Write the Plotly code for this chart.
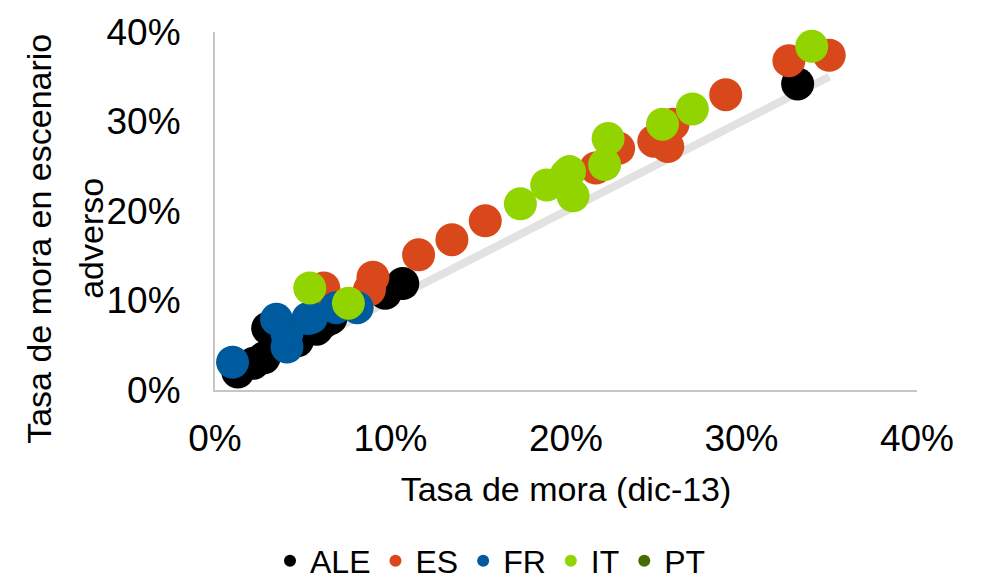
import plotly.graph_objects as go

# Tasa de mora: diciembre 2013 (x) frente a escenario adverso (y), por país
ale_x = [0.013, 0.022, 0.028, 0.030, 0.047, 0.058, 0.062, 0.066, 0.097, 0.107, 0.332]
ale_y = [0.020, 0.030, 0.036, 0.069, 0.055, 0.068, 0.076, 0.080, 0.108, 0.119, 0.342]

es_x = [0.062, 0.088, 0.090, 0.116, 0.135, 0.154, 0.217, 0.230, 0.250, 0.258, 0.261, 0.291, 0.327, 0.350]
es_y = [0.114, 0.112, 0.126, 0.151, 0.168, 0.189, 0.248, 0.270, 0.278, 0.272, 0.297, 0.330, 0.368, 0.374]

fr_x = [0.010, 0.035, 0.041, 0.041, 0.053, 0.055, 0.069, 0.081]
fr_y = [0.031, 0.079, 0.048, 0.063, 0.080, 0.081, 0.092, 0.092]

it_x = [0.054, 0.076, 0.174, 0.189, 0.200, 0.202, 0.204, 0.222, 0.224, 0.255, 0.272, 0.340]
it_y = [0.114, 0.097, 0.208, 0.229, 0.240, 0.244, 0.217, 0.252, 0.281, 0.297, 0.314, 0.384]

pt_x = []
pt_y = []

# Línea de referencia (misma tasa en ambos ejes)
ref_x = [0.01, 0.35]
ref_y = [0.01, 0.35]

series = [
    ("ALE", ale_x, ale_y, "#000000"),
    ("ES", es_x, es_y, "#d9481a"),
    ("FR", fr_x, fr_y, "#005a9e"),
    ("IT", it_x, it_y, "#92d400"),
    ("PT", pt_x, pt_y, "#466b00"),
]

ytitle_lines = ["Tasa de mora en escenario", "adverso"]

FONT = "Arial, 'Liberation Sans', sans-serif"
W, H = 981, 582
L, R, T, B = 215, 64, 30, 192
plot_w = W - L - R
plot_h = H - T - B


def px_to_paper_x(px):
    return (px - L) / plot_w


def px_to_paper_y(py):
    return (H - B - py) / plot_h


fig = go.Figure()
fig.add_trace(go.Scatter(
    x=ref_x, y=ref_y, mode="lines", showlegend=False, hoverinfo="skip",
    line=dict(color="#e2e2e2", width=8),
))
for name, xs, ys, color in series:
    fig.add_trace(go.Scatter(
        x=xs if xs else [None], y=ys if ys else [None],
        mode="markers", name=name, cliponaxis=False,
        marker=dict(size=33, color=color, line=dict(width=0)),
    ))

# Título del eje vertical, en dos líneas
title_annots = []
for text, cx in zip(ytitle_lines, [39, 91]):
    title_annots.append(dict(
        text=text, xref="paper", yref="paper",
        x=px_to_paper_x(cx), y=px_to_paper_y(238),
        xanchor="center", yanchor="middle", textangle=-90,
        showarrow=False, font=dict(size=34, family=FONT),
    ))

fig.update_layout(
    width=W, height=H,
    margin=dict(l=L, r=R, t=T, b=B),
    paper_bgcolor="white", plot_bgcolor="white",
    font=dict(family=FONT, color="#000000"),
    showlegend=True,
    legend=dict(
        orientation="h", xref="container", yref="container",
        x=0.5, xanchor="center", y=0.036, yanchor="middle",
        font=dict(size=32, family=FONT), itemsizing="constant",
        traceorder="normal",
    ),
    annotations=title_annots,
)
fig.update_xaxes(
    range=[0, 0.4], tickvals=[0, 0.1, 0.2, 0.3, 0.4], tickformat=".0%",
    showgrid=False, zeroline=False, showline=True, linecolor="#c6c6c6", linewidth=2,
    ticks="", tickfont=dict(size=37, family=FONT), ticklabelstandoff=15,
    title=dict(text="Tasa de mora (dic-13)", font=dict(size=34, family=FONT), standoff=19),
)
fig.update_yaxes(
    range=[0, 0.4], tickvals=[0, 0.1, 0.2, 0.3, 0.4], tickformat=".0%",
    showgrid=False, zeroline=False, showline=True, linecolor="#c6c6c6", linewidth=2,
    ticks="", tickfont=dict(size=37, family=FONT), ticklabelstandoff=25,
)

fig.write_html("out.html")
